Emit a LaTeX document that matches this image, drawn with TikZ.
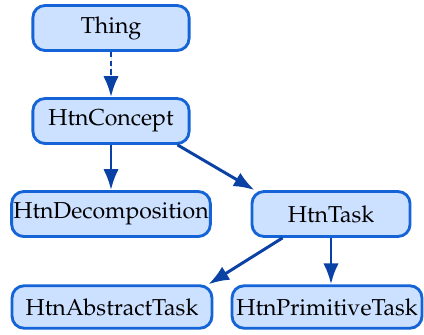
\documentclass[tikz,border=0pt]{standalone}
\usepackage[T1]{fontenc}
\usepackage{mathpazo}
\usepackage{tikz}
\usetikzlibrary{arrows.meta, positioning}
\usepackage{xcolor}
\definecolor{boxFill}{RGB}{204, 224, 255}
\definecolor{boxLine}{RGB}{20, 100, 215}
\definecolor{arrLine}{RGB}{10, 65, 165}

\begin{document}
\begin{tikzpicture}[
  x=0.016cm, y=-0.016cm,
  every node/.style={align=center},
  arrow/.style={-{Latex[length=9.5pt,width=7pt]}, draw=arrLine, fill=arrLine, line width=1.35pt},
  base/.style={draw=boxLine, fill=boxFill, line width=1.3pt, rounded corners=5.5pt,
    minimum height=0.72cm, inner sep=0.5pt, font=\fontsize{10.5}{12}\selectfont},
]
\useasboundingbox (0,0) rectangle (424,334);

% Class nodes
\node[base, minimum width=2.5cm] (thing) at (111,28) {Thing};
\node[base, minimum width=2.5cm] (concept) at (111,121) {HtnConcept};
\node[base, minimum width=3.18cm] (decomp) at (111,214) {HtnDecomposition};
\node[base, minimum width=2.53cm] (task) at (331,214) {HtnTask};
\node[base, minimum width=3.2cm, minimum height=0.68cm] (abstract) at (112,307) {HtnAbstractTask};
\node[base, minimum width=3.04cm, minimum height=0.68cm] (primitive) at (327,307) {HtnPrimitiveTask};

% Arrows between classes
\draw[arrow, dash pattern=on 2.5pt off 1.5pt] (thing) -- (concept);
\draw[arrow] (concept) -- (decomp);
\draw[arrow] ([shift={(-13,0)}]concept.south east) -- ([shift={(4,0)}]task.north west);
\draw[arrow] ([shift={(32,0)}]task.south west) -- ([shift={(-5,0)}]abstract.north east);
\draw[arrow] (task) -- (task |- primitive.north);

\end{tikzpicture}
\end{document}
